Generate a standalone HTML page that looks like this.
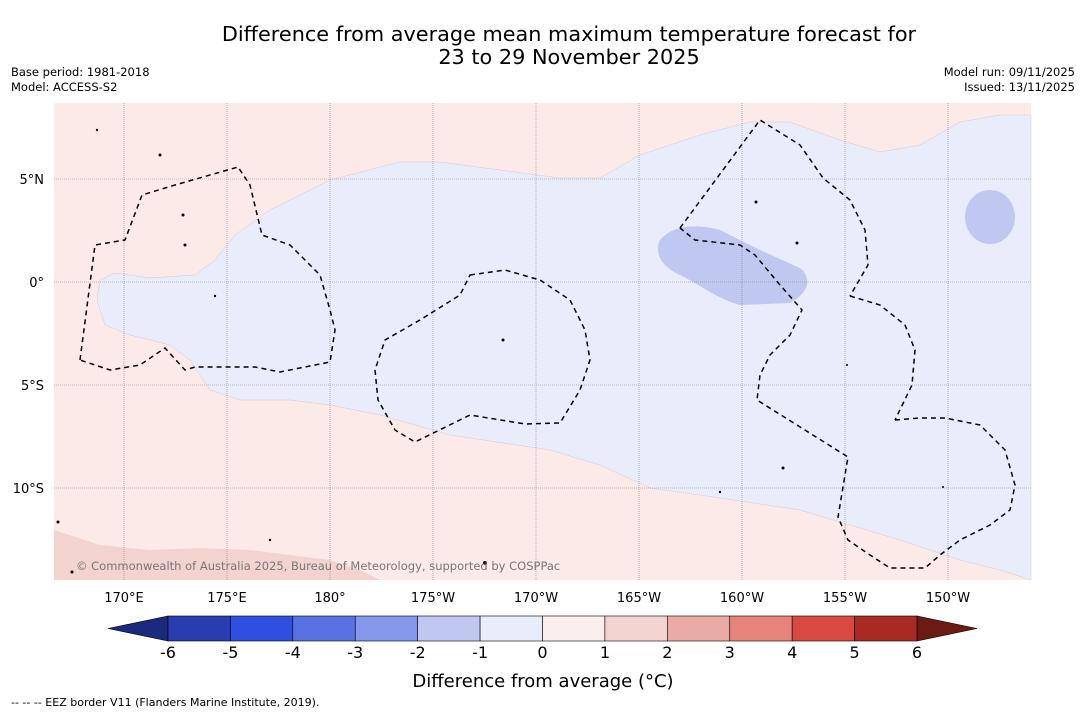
<!DOCTYPE html>
<html><head><meta charset="utf-8"><style>
body{margin:0;background:#fff;width:1085px;height:713px;overflow:hidden;font-family:"Liberation Sans","DejaVu Sans",sans-serif;}
svg text{font-family:"DejaVu Sans","Liberation Sans",sans-serif;}
</style></head><body>
<svg id="chart" width="1085" height="713" viewBox="0 0 1085 713">
<text x="569" y="41" font-size="20.8" text-anchor="middle">Difference from average mean maximum temperature forecast for</text>
<text x="569" y="64" font-size="20.8" text-anchor="middle">23 to 29 November 2025</text>
<text x="11" y="76" font-size="11.5">Base period: 1981-2018</text>
<text x="11" y="91" font-size="11.5">Model: ACCESS-S2</text>
<text x="1075" y="76" font-size="11.5" text-anchor="end">Model run: 09/11/2025</text>
<text x="1075" y="91" font-size="11.5" text-anchor="end">Issued: 13/11/2025</text>
<g>
<rect x="54" y="103" width="977" height="477" fill="#fbeae8"/>
<path fill="#e9ecfb" stroke="#d8c8d0" stroke-width="0.5" d="M115,273 L150,278 195,275 215,260 235,235 270,210 330,180 400,162 440,162 500,170 560,178 600,178 640,155 700,135 750,122 790,122 840,140 880,152 920,145 960,122 1000,115 1031,115 L1031,580 1000,570 960,560 900,540 850,525 800,510 700,495 650,488 600,465 550,450 450,435 380,415 330,405 290,400 240,400 210,390 200,375 190,360 170,345 130,335 105,325 97,300 100,280 Z"/>
<path fill="#c0c8f2" d="M660,240 C670,228 690,222 720,230 L760,250 800,268 C812,278 810,292 790,303 L740,305 C720,300 700,285 680,275 C658,265 655,250 660,240 Z"/>
<ellipse cx="990" cy="217" rx="25" ry="27" fill="#c0c8f2"/>
<path fill="#f3d3d0" d="M54,530 L100,545 150,550 200,548 250,550 330,560 360,570 380,580 54,580 Z"/>
<g id="grid" stroke="#556" stroke-width="0.6" stroke-dasharray="1,1" opacity="0.7"></g>
<g fill="none" stroke="#000" stroke-width="1.5" stroke-dasharray="5,4">
<path d="M80,360 L95,245 125,240 142,195 175,185 238,167 250,185 262,235 290,245 320,275 330,310 335,330 330,362 280,372 255,367 195,367 185,370 165,348 140,365 110,370 Z"/>
<path d="M470,275 L505,270 540,280 570,300 585,330 590,360 580,390 560,423 525,424 470,415 415,442 395,430 378,400 375,370 385,340 420,320 460,295 Z"/>
<path d="M680,228 L760,120 800,145 823,178 850,200 865,230 868,265 850,296"/>
<path d="M850,296 L880,305 905,325 915,350 912,385 895,420"/>
<path d="M895,420 L920,418 945,418 980,425 1005,450 1015,485 1010,510 990,525 960,540 940,555 925,568 890,568 870,555 848,540 838,517 848,457 757,400 760,375 770,355 790,335 802,310 780,285 755,255 740,245 695,240 680,228"/>
</g>
<g fill="#000">
<circle cx="185" cy="245" r="1.5"/><circle cx="183" cy="215" r="1.5"/><circle cx="160" cy="155" r="1.5"/><circle cx="97" cy="130" r="1.2"/><circle cx="215" cy="296" r="1.2"/><circle cx="503" cy="340" r="1.5"/><circle cx="756" cy="202" r="1.5"/><circle cx="797" cy="243" r="1.5"/><circle cx="783" cy="468" r="1.5"/><circle cx="720" cy="492" r="1.2"/><circle cx="58" cy="522" r="1.5"/><circle cx="485" cy="563" r="2"/><circle cx="72" cy="572" r="1.5"/><circle cx="270" cy="540" r="1.2"/><circle cx="943" cy="487" r="1"/><circle cx="847" cy="365" r="1"/>
</g>
<text x="76" y="570" font-size="11.5" fill="#777">© Commonwealth of Australia 2025, Bureau of Meteorology, supported by COSPPac</text>
</g>
<g id="ticks"></g>
<g id="cbar"></g>
<text x="543" y="687" font-size="18" text-anchor="middle">Difference from average (°C)</text>
<text x="11" y="706" font-size="11">-- -- -- EEZ border V11 (Flanders Marine Institute, 2019).</text>
</svg>
<script>
const lonTicks=[170,175,180,-175,-170,-165,-160,-155,-150];
const lonLabels=["170°E","175°E","180°","175°W","170°W","165°W","160°W","155°W","150°W"];
const latTicks=[5,0,-5,-10];
const latLabels=["5°N","0°","5°S","10°S"];
const cbarLevels=[-6,-5,-4,-3,-2,-1,0,1,2,3,4,5,6];
const cbarColors=["#2a3db0","#2f4fe0","#5872e3","#8497ea","#c0c8f2","#e9ecfb","#fbeeee","#f3d3d0","#ebaba5","#e6837b","#d84a41","#a82a23"];
(function(){
const ns="http://www.w3.org/2000/svg";
const xLon=l=>{let e=l<0?360+l:l;return 124+(e-170)*20.6;};
const yLat=a=>282-a*20.6;
const grid=document.getElementById('grid'),ticks=document.getElementById('ticks');
lonTicks.forEach((l,i)=>{const x=xLon(l);
 const ln=document.createElementNS(ns,'line');ln.setAttribute('x1',x);ln.setAttribute('x2',x);ln.setAttribute('y1',103);ln.setAttribute('y2',580);
 
 
 grid.appendChild(ln);
 const t=document.createElementNS(ns,'text');t.setAttribute('x',x);t.setAttribute('y',602);t.setAttribute('font-size','13');t.setAttribute('text-anchor','middle');t.textContent=lonLabels[i];
 
 
 ticks.appendChild(t);});
latTicks.forEach((a,i)=>{const y=yLat(a);
 const ln=document.createElementNS(ns,'line');ln.setAttribute('x1',54);ln.setAttribute('x2',1031);ln.setAttribute('y1',y);ln.setAttribute('y2',y);
 
 
 grid.appendChild(ln);
 const t=document.createElementNS(ns,'text');t.setAttribute('x',44);t.setAttribute('y',y+5);t.setAttribute('font-size','13');t.setAttribute('text-anchor','end');t.textContent=latLabels[i];
 
 
 ticks.appendChild(t);});
const cb=document.getElementById('cbar');
const x0=168,x1=917,n=cbarColors.length,w=(x1-x0)/n,cTop=616,h=25;
const lt=document.createElementNS(ns,'polygon');lt.setAttribute('points',`108,${cTop+h/2} ${x0},${cTop} ${x0},${cTop+h}`);lt.setAttribute('fill','#1b2a7c');lt.setAttribute('stroke','#000');lt.setAttribute('stroke-width','0.6');


cb.appendChild(lt);
const rt=document.createElementNS(ns,'polygon');rt.setAttribute('points',`977,${cTop+h/2} ${x1},${cTop} ${x1},${cTop+h}`);rt.setAttribute('fill','#6d1a15');rt.setAttribute('stroke','#000');rt.setAttribute('stroke-width','0.6');


cb.appendChild(rt);
cbarColors.forEach((c,i)=>{const r=document.createElementNS(ns,'rect');r.setAttribute('x',x0+i*w);r.setAttribute('y',cTop);r.setAttribute('width',w);r.setAttribute('height',h);r.setAttribute('fill',c);r.setAttribute('stroke','#000');r.setAttribute('stroke-width','0.6');
 
 
 cb.appendChild(r);});
cbarLevels.forEach((v,i)=>{const t=document.createElementNS(ns,'text');t.setAttribute('x',x0+i*w);t.setAttribute('y',658);t.setAttribute('font-size','16');t.setAttribute('text-anchor','middle');t.textContent=v;
 
 
 cb.appendChild(t);});
})();
</script>
</body></html>
